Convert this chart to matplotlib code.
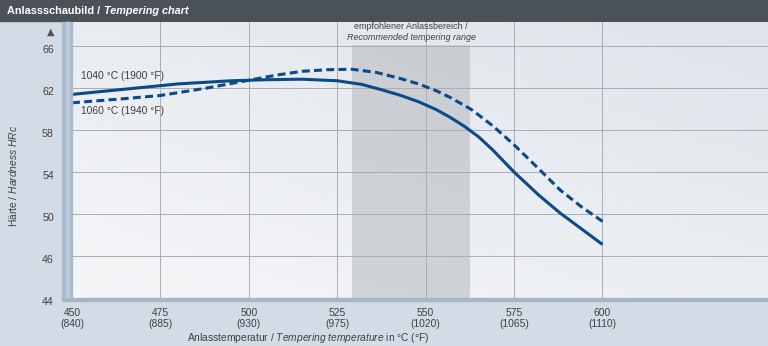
import numpy as np
import matplotlib
matplotlib.use('Agg')
import matplotlib.pyplot as plt
from matplotlib.patches import Rectangle

plt.rcParams['font.family'] = ['Liberation Sans', 'DejaVu Sans']
plt.rcParams['mathtext.fontset'] = 'custom'
plt.rcParams['mathtext.rm'] = 'Liberation Sans'
plt.rcParams['mathtext.it'] = 'Liberation Sans:italic'

# data
temp_c = [450, 475, 500, 525, 550, 575, 600]
temp_f = [840, 885, 930, 975, 1020, 1065, 1110]
hard_ticks = [46, 50, 54, 58, 62, 66]

t_1040 = [450, 465, 480, 495, 505, 515, 525, 532, 538, 543, 548, 553, 557, 561, 565, 569, 575, 582, 588, 594, 600]
h_1040 = [61.4, 61.9, 62.4, 62.7, 62.8, 62.85, 62.7, 62.35, 61.8, 61.3, 60.7, 59.95, 59.2, 58.35, 57.35, 56.1, 54.0, 51.8, 50.1, 48.6, 47.1]

t_1060 = [450, 465, 475, 488, 500, 508, 515, 522, 529, 536, 543, 548, 553, 557, 563, 569, 575, 582, 588, 594, 600]
h_1060 = [60.6, 61.0, 61.3, 62.0, 62.75, 63.25, 63.6, 63.75, 63.8, 63.5, 62.9, 62.4, 61.75, 61.1, 59.95, 58.4, 56.6, 54.3, 52.3, 50.7, 49.3]

range_lo, range_hi = 529.2, 562.6

blue = '#0b4a8a'
txt = '#404040'
fs = 7.4

fig = plt.figure(figsize=(7.68, 3.46), dpi=100)
fig.patch.set_facecolor('#d3dce6')

# title bar
fig.add_artist(Rectangle((0, 1 - 21 / 346), 1, 21 / 346, transform=fig.transFigure,
                         color='#4b5159', zorder=0))
t1 = fig.text(7 / 768, 1 - 11 / 346, 'Anlassschaubild / ', color='white',
              fontsize=7.8, fontweight='bold', va='center', ha='left')
r = fig.canvas.get_renderer()
bb = t1.get_window_extent(r)
fig.text(bb.x1 / 768 + 1 / 768, 1 - 11 / 346, 'Tempering chart', color='white',
         fontsize=7.8, fontweight='bold', style='italic', va='center', ha='left')

ax = fig.add_axes([72 / 768, 48 / 346, 1 - 72 / 768, 276 / 346])
ax.set_xlim(450, 646.8)
ax.set_ylim(42, 68.3)

# background gradient
gx, gy = np.meshgrid(np.linspace(0, 1, 50), np.linspace(0, 1, 50))
g = 0.55 * gy + 0.45 * gx
cmap = matplotlib.colors.LinearSegmentedColormap.from_list('bg', ['#f5f6f8', '#dfe4ea'])
ax.imshow(g, cmap=cmap, extent=[0, 1, 0, 1], transform=ax.transAxes, origin='lower',
          aspect='auto', zorder=0)

# wall and floor
fig.add_artist(Rectangle((62 / 768, 47 / 346), 10 / 768, 277 / 346, transform=fig.transFigure,
                         color='#a9bbcf', zorder=3))
fig.add_artist(Rectangle((66 / 768, 47 / 346), 3 / 768, 277 / 346, transform=fig.transFigure,
                         color='#bccadb', zorder=3))
fig.add_artist(Rectangle((62 / 768, 45 / 346), 1 - 62 / 768, 3 / 346, transform=fig.transFigure,
                         color='#a6b6c7', zorder=3))

# recommended range
ax.fill_between([range_lo, range_hi], 42, 66.1, color='#b9bdc2', alpha=0.6, lw=0, zorder=1)
ax.text((range_lo + range_hi) / 2, 67.85, 'empfohlener Anlassbereich /', ha='center', va='center',
        fontsize=6.5, color=txt)
ax.text((range_lo + range_hi) / 2, 66.8, 'Recommended tempering range', ha='center', va='center',
        fontsize=6.5, color=txt, style='italic')

# grid
for h in hard_ticks:
    ax.axhline(h, color='#aaaeb2', lw=0.7, zorder=1)
for t in temp_c[1:]:
    ax.axvline(t, color='#aaaeb2', lw=0.7, zorder=1)

ax.plot(t_1040, h_1040, color=blue, lw=2.2, solid_capstyle='butt', solid_joinstyle='round', zorder=4)
ax.plot(t_1060, h_1060, color=blue, lw=2.2, linestyle=(0, (2.6, 1.4)), zorder=4)

ax.text(452.5, 63.2, '1040 °C (1900 °F)', fontsize=fs, color=txt, va='center')
ax.text(452.5, 59.8, '1060 °C (1940 °F)', fontsize=fs, color=txt, va='center')

for s in ax.spines.values():
    s.set_visible(False)
ax.set_xticks(temp_c)
ax.set_xticklabels([f'{c}\n({f})' for c, f in zip(temp_c, temp_f)], fontsize=fs, color=txt,
                   linespacing=1.15)
ax.set_yticks([42] + hard_ticks)
ax.set_yticklabels(['44'] + [str(h) for h in hard_ticks], fontsize=fs + 0.3, color=txt)
ax.tick_params(length=0, axis='x', pad=7)
ax.tick_params(length=0, axis='y', pad=13)
for lbl in ax.get_yticklabels():
    lbl.set_transform(lbl.get_transform() + matplotlib.transforms.ScaledTranslation(0, -3 / 100, fig.dpi_scale_trans))

fig.text(51 / 768, 1 - 32 / 346, '▲', fontsize=7, color='#555555', ha='center', va='center',
         family='DejaVu Sans')
fig.text(13 / 768, 1 - 176 / 346, r'Härte / $\it{Hardness\ HRc}$', rotation=90, fontsize=fs,
         color=txt, ha='center', va='center')
fig.text(308 / 768, 1 - 338 / 346, r'Anlasstemperatur / $\it{Tempering\ temperature}$ in °C (°F)',
         fontsize=fs, color=txt, ha='center', va='center')

fig.savefig('out.png', dpi=100, facecolor=fig.get_facecolor())
